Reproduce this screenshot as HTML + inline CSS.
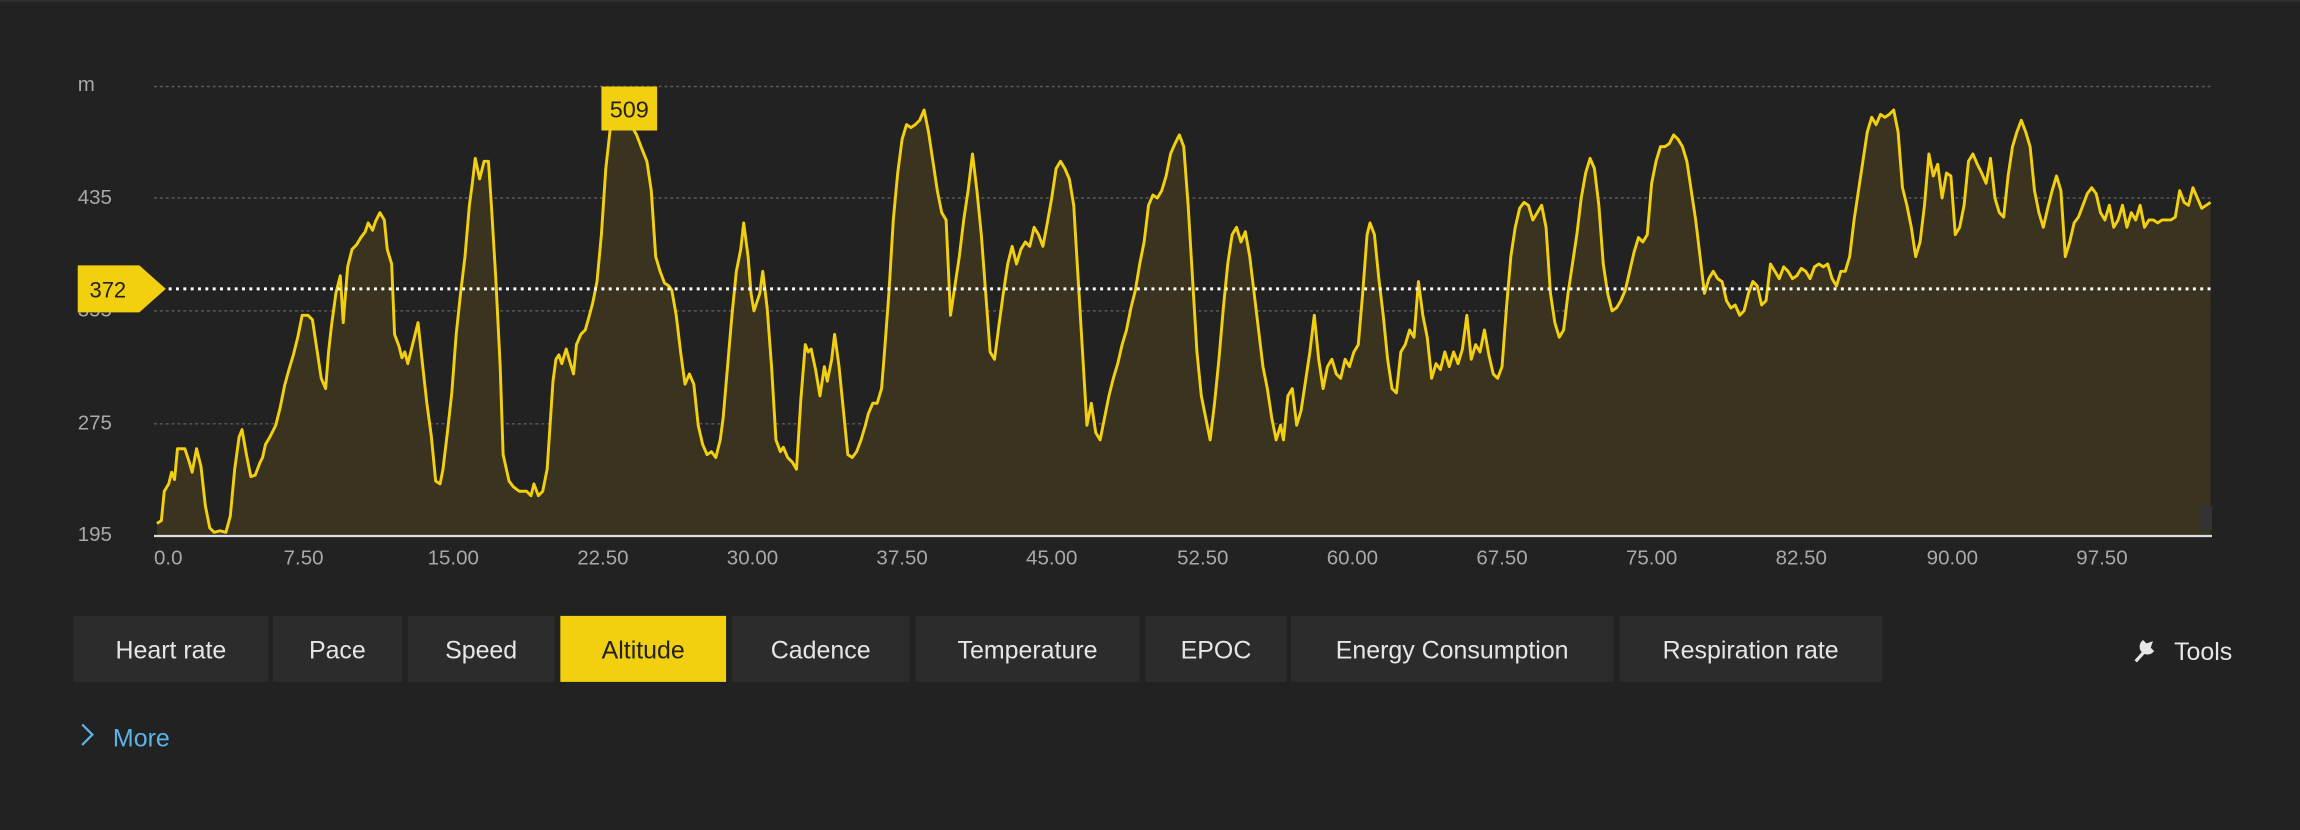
<!DOCTYPE html>
<html><head><meta charset="utf-8"><style>
html,body{margin:0;padding:0;background:#222;}
svg{display:block;}
text{font-family:"Liberation Sans",sans-serif;}
</style></head><body>
<svg width="2300" height="830" viewBox="0 0 1568 566" preserveAspectRatio="none">
<rect width="1568" height="566" fill="#222"/>
<rect x="0" y="0" width="1568" height="1.5" fill="#2e2e2e"/>
<g stroke="#5a5a5a" stroke-width="1" stroke-dasharray="2,2">
<line x1="105" y1="59" x2="1508" y2="59"/>
<line x1="105" y1="135" x2="1508" y2="135"/>
<line x1="105" y1="212" x2="1508" y2="212"/>
<line x1="105" y1="289" x2="1508" y2="289"/>
</g>
<g fill="#a8a8a8" font-size="14">
<text x="53" y="62">m</text>
<text x="53" y="139">435</text>
<text x="53" y="216">355</text>
<text x="53" y="293">275</text>
<text x="53" y="369">195</text>
</g>
<polygon fill="#39331f" points="107,365 107,357 110,355 112,335 115,330 117,322 119,327 121,306 126,306 129,315 131,322 134,306 137,318 140,345 143,360 146,363 150,362 154,363 157,352 160,320 163,298 165,293 168,310 171,325 174,324 177,316 179,312 181,303 184,298 188,290 191,278 194,263 197,252 200,242 203,230 206,215 210,215 213,218 216,238 219,258 222,265 224,240 226,222 229,200 232,188 234,220 237,182 240,170 243,167 246,162 249,158 251,152 254,157 256,151 259,145 262,150 264,170 267,180 269,228 272,236 274,244 276,240 278,248 280,240 283,228 285,220 288,248 291,275 294,297 297,328 300,330 302,320 305,295 308,268 311,228 314,200 317,175 320,140 322,125 324,108 327,122 330,110 333,110 335,140 338,190 341,250 343,310 347,328 350,332 354,335 359,335 362,338 364,330 367,338 370,335 373,320 375,290 377,260 379,245 381,242 383,248 386,238 388,245 391,255 393,235 396,228 399,225 401,218 404,207 407,192 410,160 413,115 416,88 418,80 420,80 430,85 434,92 437,100 441,110 444,130 447,175 450,185 453,193 456,195 458,198 461,215 464,240 467,262 470,255 473,262 476,290 479,303 482,310 485,308 488,312 491,300 493,285 496,250 499,215 502,185 505,170 507,152 510,175 512,200 514,212 516,206 518,200 520,185 523,210 526,250 529,300 532,308 534,305 537,312 540,315 543,320 546,272 549,235 551,240 553,238 556,252 559,270 562,250 564,260 567,245 569,228 572,250 575,280 578,310 581,312 584,308 587,300 590,290 592,282 595,275 598,275 601,265 603,240 606,200 609,150 612,118 615,95 618,85 621,87 624,85 627,82 630,75 633,90 636,110 639,130 642,145 645,150 648,215 651,195 654,175 657,150 660,130 663,105 666,130 669,160 672,200 675,240 678,245 681,222 684,200 687,180 690,168 693,180 696,170 699,165 702,168 705,155 708,160 711,168 714,152 717,135 720,115 723,110 726,115 729,122 732,140 735,190 738,240 741,290 744,275 747,295 750,300 753,285 756,270 759,258 762,248 765,235 768,225 771,210 774,198 777,180 780,165 783,140 786,133 789,135 792,130 795,120 798,105 801,98 804,92 807,100 810,140 813,190 816,240 819,270 822,285 825,300 828,275 831,245 834,210 837,180 840,160 843,155 846,165 849,158 852,175 855,200 858,225 861,250 864,265 867,285 870,300 873,290 875,300 878,270 881,265 884,290 887,280 890,260 893,240 896,215 899,245 902,265 905,250 908,245 911,255 914,258 917,245 920,250 923,240 926,235 929,200 932,160 934,152 937,160 940,190 943,215 946,245 949,265 952,268 955,240 958,235 961,225 964,230 967,192 970,215 973,230 976,258 979,248 982,252 985,240 988,250 991,240 994,248 997,238 1000,215 1003,245 1006,235 1009,240 1012,225 1015,242 1018,255 1021,258 1024,250 1027,210 1030,175 1033,155 1036,142 1039,138 1042,140 1045,150 1048,145 1051,140 1054,155 1057,200 1060,220 1063,230 1066,225 1069,200 1072,180 1075,160 1078,135 1081,118 1084,108 1087,115 1090,140 1093,180 1096,200 1099,212 1102,210 1105,205 1108,198 1111,185 1114,172 1117,162 1120,165 1123,160 1126,125 1129,110 1132,100 1135,100 1138,98 1141,92 1144,95 1147,100 1150,110 1153,130 1156,150 1159,175 1162,200 1165,190 1168,185 1171,190 1174,192 1177,205 1180,210 1183,208 1186,215 1189,212 1192,200 1195,192 1198,195 1201,208 1204,205 1207,180 1210,185 1213,190 1216,182 1219,185 1222,190 1225,188 1228,183 1231,185 1234,190 1237,182 1240,180 1243,182 1246,180 1249,190 1252,195 1255,185 1258,185 1261,175 1264,150 1267,130 1270,110 1273,90 1276,80 1279,85 1282,78 1285,80 1288,78 1291,75 1294,90 1297,128 1300,140 1303,155 1306,175 1309,165 1312,140 1315,105 1318,120 1321,112 1324,135 1327,118 1330,120 1333,160 1336,155 1339,140 1342,110 1345,105 1348,112 1351,118 1354,125 1357,108 1360,135 1363,145 1366,148 1369,120 1372,100 1375,90 1378,82 1381,90 1384,100 1387,130 1390,145 1393,155 1396,142 1399,130 1402,120 1405,130 1408,175 1411,165 1414,152 1417,148 1420,140 1423,132 1426,128 1429,132 1432,145 1435,150 1438,140 1441,155 1444,150 1447,140 1450,155 1453,145 1456,150 1459,140 1462,155 1465,150 1468,150 1471,152 1474,150 1477,150 1480,150 1483,148 1486,130 1489,138 1492,140 1495,128 1498,135 1501,142 1504,140 1507,138 1507,365"/>
<polyline fill="none" stroke="#f2d00f" stroke-width="2" stroke-linejoin="round" points="107,357 110,355 112,335 115,330 117,322 119,327 121,306 126,306 129,315 131,322 134,306 137,318 140,345 143,360 146,363 150,362 154,363 157,352 160,320 163,298 165,293 168,310 171,325 174,324 177,316 179,312 181,303 184,298 188,290 191,278 194,263 197,252 200,242 203,230 206,215 210,215 213,218 216,238 219,258 222,265 224,240 226,222 229,200 232,188 234,220 237,182 240,170 243,167 246,162 249,158 251,152 254,157 256,151 259,145 262,150 264,170 267,180 269,228 272,236 274,244 276,240 278,248 280,240 283,228 285,220 288,248 291,275 294,297 297,328 300,330 302,320 305,295 308,268 311,228 314,200 317,175 320,140 322,125 324,108 327,122 330,110 333,110 335,140 338,190 341,250 343,310 347,328 350,332 354,335 359,335 362,338 364,330 367,338 370,335 373,320 375,290 377,260 379,245 381,242 383,248 386,238 388,245 391,255 393,235 396,228 399,225 401,218 404,207 407,192 410,160 413,115 416,88 418,80 420,80 430,85 434,92 437,100 441,110 444,130 447,175 450,185 453,193 456,195 458,198 461,215 464,240 467,262 470,255 473,262 476,290 479,303 482,310 485,308 488,312 491,300 493,285 496,250 499,215 502,185 505,170 507,152 510,175 512,200 514,212 516,206 518,200 520,185 523,210 526,250 529,300 532,308 534,305 537,312 540,315 543,320 546,272 549,235 551,240 553,238 556,252 559,270 562,250 564,260 567,245 569,228 572,250 575,280 578,310 581,312 584,308 587,300 590,290 592,282 595,275 598,275 601,265 603,240 606,200 609,150 612,118 615,95 618,85 621,87 624,85 627,82 630,75 633,90 636,110 639,130 642,145 645,150 648,215 651,195 654,175 657,150 660,130 663,105 666,130 669,160 672,200 675,240 678,245 681,222 684,200 687,180 690,168 693,180 696,170 699,165 702,168 705,155 708,160 711,168 714,152 717,135 720,115 723,110 726,115 729,122 732,140 735,190 738,240 741,290 744,275 747,295 750,300 753,285 756,270 759,258 762,248 765,235 768,225 771,210 774,198 777,180 780,165 783,140 786,133 789,135 792,130 795,120 798,105 801,98 804,92 807,100 810,140 813,190 816,240 819,270 822,285 825,300 828,275 831,245 834,210 837,180 840,160 843,155 846,165 849,158 852,175 855,200 858,225 861,250 864,265 867,285 870,300 873,290 875,300 878,270 881,265 884,290 887,280 890,260 893,240 896,215 899,245 902,265 905,250 908,245 911,255 914,258 917,245 920,250 923,240 926,235 929,200 932,160 934,152 937,160 940,190 943,215 946,245 949,265 952,268 955,240 958,235 961,225 964,230 967,192 970,215 973,230 976,258 979,248 982,252 985,240 988,250 991,240 994,248 997,238 1000,215 1003,245 1006,235 1009,240 1012,225 1015,242 1018,255 1021,258 1024,250 1027,210 1030,175 1033,155 1036,142 1039,138 1042,140 1045,150 1048,145 1051,140 1054,155 1057,200 1060,220 1063,230 1066,225 1069,200 1072,180 1075,160 1078,135 1081,118 1084,108 1087,115 1090,140 1093,180 1096,200 1099,212 1102,210 1105,205 1108,198 1111,185 1114,172 1117,162 1120,165 1123,160 1126,125 1129,110 1132,100 1135,100 1138,98 1141,92 1144,95 1147,100 1150,110 1153,130 1156,150 1159,175 1162,200 1165,190 1168,185 1171,190 1174,192 1177,205 1180,210 1183,208 1186,215 1189,212 1192,200 1195,192 1198,195 1201,208 1204,205 1207,180 1210,185 1213,190 1216,182 1219,185 1222,190 1225,188 1228,183 1231,185 1234,190 1237,182 1240,180 1243,182 1246,180 1249,190 1252,195 1255,185 1258,185 1261,175 1264,150 1267,130 1270,110 1273,90 1276,80 1279,85 1282,78 1285,80 1288,78 1291,75 1294,90 1297,128 1300,140 1303,155 1306,175 1309,165 1312,140 1315,105 1318,120 1321,112 1324,135 1327,118 1330,120 1333,160 1336,155 1339,140 1342,110 1345,105 1348,112 1351,118 1354,125 1357,108 1360,135 1363,145 1366,148 1369,120 1372,100 1375,90 1378,82 1381,90 1384,100 1387,130 1390,145 1393,155 1396,142 1399,130 1402,120 1405,130 1408,175 1411,165 1414,152 1417,148 1420,140 1423,132 1426,128 1429,132 1432,145 1435,150 1438,140 1441,155 1444,150 1447,140 1450,155 1453,145 1456,150 1459,140 1462,155 1465,150 1468,150 1471,152 1474,150 1477,150 1480,150 1483,148 1486,130 1489,138 1492,140 1495,128 1498,135 1501,142 1504,140 1507,138"/>
<rect x="1500" y="345" width="8" height="17" fill="#333"/>
<line x1="105" y1="365.5" x2="1508" y2="365.5" stroke="#d8dde6" stroke-width="1.5"/>
<line x1="110" y1="197" x2="1508" y2="197" stroke="#ffffff" stroke-width="2" stroke-dasharray="2,3"/>
<polygon points="53,181 95,181 113,197 95,213 53,213" fill="#f2d00f"/>
<text x="61" y="203" font-size="15" fill="#222">372</text>
<rect x="410" y="59" width="38" height="30" fill="#f2d00f"/>
<text x="429" y="80" font-size="16" fill="#222" text-anchor="middle">509</text>
<g fill="#a8a8a8" font-size="14" text-anchor="middle">
<text x="105" y="385" text-anchor="start">0.0</text>
<text x="207" y="385">7.50</text>
<text x="309" y="385">15.00</text>
<text x="411" y="385">22.50</text>
<text x="513" y="385">30.00</text>
<text x="615" y="385">37.50</text>
<text x="717" y="385">45.00</text>
<text x="820" y="385">52.50</text>
<text x="922" y="385">60.00</text>
<text x="1024" y="385">67.50</text>
<text x="1126" y="385">75.00</text>
<text x="1228" y="385">82.50</text>
<text x="1331" y="385">90.00</text>
<text x="1433" y="385">97.50</text>
</g>
<g fill="#2c2c2c">
<rect x="50" y="420" width="133" height="45"/>
<rect x="186" y="420" width="88" height="45"/>
<rect x="278" y="420" width="100" height="45"/>
<rect x="499" y="420" width="121" height="45"/>
<rect x="624" y="420" width="153" height="45"/>
<rect x="781" y="420" width="96" height="45"/>
<rect x="880" y="420" width="220" height="45"/>
<rect x="1104" y="420" width="179" height="45"/>
</g>
<rect x="382" y="420" width="113" height="45" fill="#f2d00f"/>
<g font-size="17" fill="#e6e6e6" text-anchor="middle">
<text x="116.5" y="449">Heart rate</text>
<text x="230" y="449">Pace</text>
<text x="328" y="449">Speed</text>
<text x="438.5" y="449" fill="#222">Altitude</text>
<text x="559.5" y="449">Cadence</text>
<text x="700.5" y="449">Temperature</text>
<text x="829" y="449">EPOC</text>
<text x="990" y="449">Energy Consumption</text>
<text x="1193.5" y="449">Respiration rate</text>
<text x="1502" y="450">Tools</text>
</g>
<path d="M1456,451 L1464,442 M1461,438 a4,4 0 1,0 6,6 l-2,-2 l1,-3 l-3,1 z" stroke="#e6e6e6" stroke-width="2.2" fill="#e6e6e6"/>
<path d="M56,494 L63,501 L56,508" fill="none" stroke="#5ab4e6" stroke-width="1.5"/>
<text x="77" y="509" font-size="17" fill="#5ab4e6">More</text>
</svg>
</body></html>
